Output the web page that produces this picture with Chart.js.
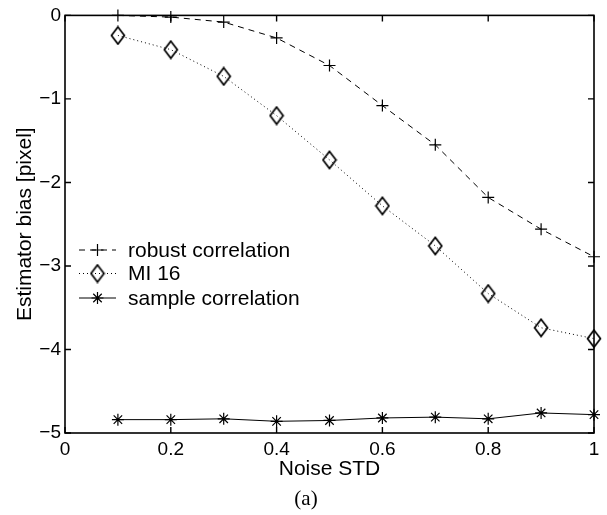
<!DOCTYPE html>
<html>
<head>
<meta charset="utf-8">
<script src="https://cdn.jsdelivr.net/npm/chart.js@4/dist/chart.umd.min.js"></script>
<style>
  body { margin: 0; background: #fff; }
  canvas { display: block; }
</style>
</head>
<body>
<canvas id="bias" width="607" height="515"></canvas>
<script>
// values
const noiseStd = [0.1, 0.2, 0.3, 0.4, 0.5, 0.6, 0.7, 0.8, 0.9, 1.0];
const robustCorr = [0, -0.02, -0.08, -0.27, -0.60, -1.08, -1.55, -2.18, -2.56, -2.89];
const mi16 = [-0.24, -0.41, -0.73, -1.20, -1.73, -2.28, -2.76, -3.33, -3.74, -3.87];
const sampleCorr = [-4.84, -4.84, -4.83, -4.86, -4.85, -4.82, -4.81, -4.83, -4.76, -4.78];
const seriesNames = ['robust correlation', 'MI 16', 'sample correlation'];
const xTicks = [0, 0.2, 0.4, 0.6, 0.8, 1];
const yTicks = [0, -1, -2, -3, -4, -5];

const sans = '"Liberation Sans", Arial, sans-serif';

// tall open diamond like matlab's 'd' marker
function makeDiamond() {
	const c = document.createElement('canvas');
	c.width = 16;
	c.height = 20;
	const g = c.getContext('2d');
	g.strokeStyle = '#000';
	g.lineWidth = 1.7;
	g.beginPath();
	g.moveTo(8, 1.5);
	g.lineTo(14.5, 10);
	g.lineTo(8, 18.5);
	g.lineTo(1.5, 10);
	g.closePath();
	g.stroke();
	return c;
}
const diamond = makeDiamond();

function pts(ys) {
	return noiseStd.map((x, i) => ({ x: x, y: ys[i] }));
}

const styles = [
	{ dash: [6, 5], point: 'cross', radius: 6 },
	{ dash: [1, 3], point: diamond, radius: 8 },
	{ dash: [], point: 'star', radius: 6 }
];

const datasets = [robustCorr, mi16, sampleCorr].map((ys, i) => ({
	label: seriesNames[i],
	data: pts(ys),
	borderColor: '#000',
	backgroundColor: 'rgba(0,0,0,0)',
	borderWidth: 1,
	borderDash: styles[i].dash,
	pointStyle: styles[i].point,
	pointRadius: styles[i].radius,
	pointBorderWidth: 1.2,
	pointBorderColor: '#000',
	tension: 0,
	clip: false
}));

function minus(v) {
	return String(v).replace('-', '\u2212');
}

// box + inward ticks, the matlab way
const framePlugin = {
	id: 'frame',
	afterDatasetsDraw(chart) {
		const ctx = chart.ctx;
		const a = chart.chartArea;
		const xs = chart.scales.x, ys = chart.scales.y;
		ctx.save();
		ctx.strokeStyle = '#000';
		ctx.lineWidth = 1.6;
		ctx.setLineDash([]);
		ctx.strokeRect(a.left, a.top, a.right - a.left, a.bottom - a.top);
		ctx.lineWidth = 1.4;
		ctx.beginPath();
		for (const v of xTicks) {
			const px = xs.getPixelForValue(v);
			ctx.moveTo(px, a.bottom);
			ctx.lineTo(px, a.bottom - 6);
			ctx.moveTo(px, a.top);
			ctx.lineTo(px, a.top + 6);
		}
		for (const v of yTicks) {
			const py = ys.getPixelForValue(v);
			ctx.moveTo(a.left, py);
			ctx.lineTo(a.left + 6, py);
			ctx.moveTo(a.right, py);
			ctx.lineTo(a.right - 6, py);
		}
		ctx.stroke();
		ctx.restore();
	}
};

const legendPlugin = {
	id: 'matlabLegend',
	afterDraw(chart) {
		const ctx = chart.ctx;
		const rows = [250, 273.5, 298];
		ctx.save();
		chart.data.datasets.forEach((ds, i) => {
			const y = rows[i];
			ctx.strokeStyle = '#000';
			ctx.lineWidth = 1;
			ctx.setLineDash(ds.borderDash);
			ctx.beginPath();
			ctx.moveTo(79, y);
			ctx.lineTo(116, y);
			ctx.stroke();
			ctx.setLineDash([]);
			ctx.lineWidth = 1.2;
			Chart.helpers.drawPoint(ctx, { pointStyle: ds.pointStyle, radius: ds.pointRadius, rotation: 0, borderWidth: 1.2 }, 97.5, y);
			ctx.fillStyle = '#000';
			ctx.font = '21px ' + sans;
			ctx.textAlign = 'left';
			ctx.textBaseline = 'middle';
			ctx.fillText(ds.label, 128, y + 1);
		});
		ctx.font = '21px "Liberation Serif", "Times New Roman", serif';
		ctx.textAlign = 'center';
		ctx.textBaseline = 'middle';
		ctx.fillText('(a)', 306, 499);
		ctx.restore();
	}
};

const ctx = document.getElementById('bias').getContext('2d');
const biasChart = new Chart(ctx, {
	type: 'line',
	data: { datasets: datasets },
	options: {
		responsive: false,
		animation: false,
		devicePixelRatio: 1,
		layout: { padding: { left: 0, top: 15, right: 13, bottom: 33 } },
		plugins: {
			legend: { display: false },
			tooltip: { enabled: false }
		},
		scales: {
			x: {
				type: 'linear',
				min: 0,
				max: 1,
				afterBuildTicks: (s) => { s.ticks = xTicks.map(v => ({ value: v })); },
				afterFit: (s) => { s.height = 49; },
				grid: { display: false, drawTicks: false },
				border: { display: false },
				ticks: {
					color: '#000',
					padding: 5,
					maxRotation: 0,
					font: { family: sans, size: 19 },
					callback: (v) => minus(v)
				},
				title: {
					display: true,
					text: 'Noise STD',
					color: '#000',
					padding: { top: 0, bottom: 0 },
					font: { family: sans, size: 21 }
				}
			},
			y: {
				type: 'linear',
				min: -5,
				max: 0,
				afterBuildTicks: (s) => { s.ticks = yTicks.map(v => ({ value: v })); },
				afterFit: (s) => { s.width = 65; },
				grid: { display: false, drawTicks: false },
				border: { display: false },
				ticks: {
					color: '#000',
					padding: 4,
					font: { family: sans, size: 19 },
					callback: (v) => minus(v)
				},
				title: {
					display: true,
					text: 'Estimator bias [pixel]',
					color: '#000',
					padding: { top: 13, bottom: 0 },
					font: { family: sans, size: 21 }
				}
			}
		}
	},
	plugins: [framePlugin, legendPlugin]
});
</script>
</body>
</html>
